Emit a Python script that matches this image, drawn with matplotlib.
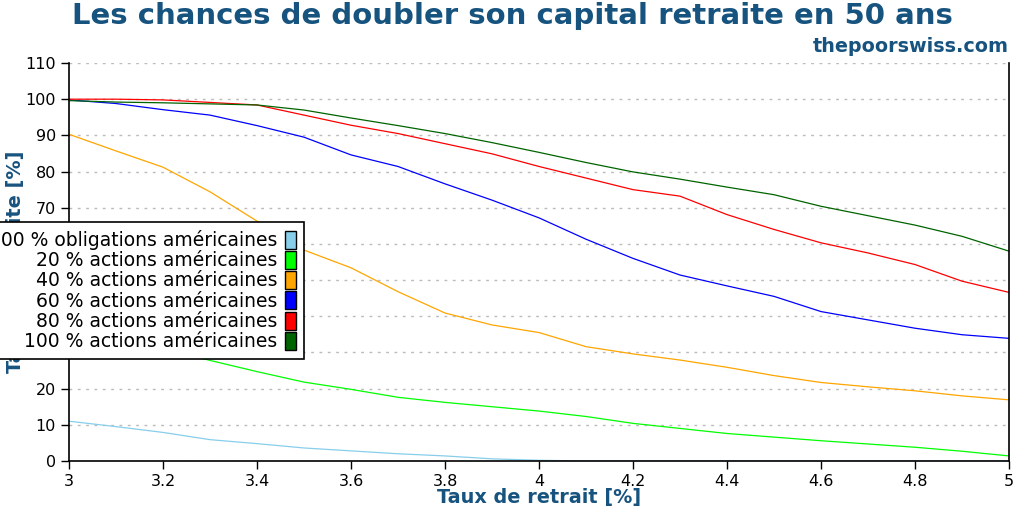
import matplotlib
matplotlib.use("Agg")
import matplotlib.pyplot as plt
import matplotlib.patches as mpatches

rates = [3.0, 3.1, 3.2, 3.3, 3.4, 3.5, 3.6, 3.7, 3.8, 3.9, 4.0,
         4.1, 4.2, 4.3, 4.4, 4.5, 4.6, 4.7, 4.8, 4.9, 5.0]

bonds100 = [11.0, 9.5, 7.9, 5.9, 4.8, 3.6, 2.8, 2.0, 1.4, 0.6, 0.2,
            0.0, 0.0, 0.0, 0.0, 0.0, 0.0, 0.0, 0.0, 0.0, 0.0]
stocks20 = [38.0, 34.5, 31.0, 27.8, 24.7, 21.8, 19.8, 17.6, 16.2, 15.0, 13.8,
            12.3, 10.4, 9.0, 7.6, 6.6, 5.6, 4.7, 3.8, 2.7, 1.4]
stocks40 = [90.3, 85.7, 81.2, 74.4, 66.3, 58.3, 53.4, 46.8, 40.9, 37.6, 35.5,
            31.6, 29.6, 27.9, 25.9, 23.6, 21.7, 20.5, 19.4, 18.0, 16.9]
stocks60 = [99.8, 98.8, 97.1, 95.6, 92.7, 89.5, 84.6, 81.4, 76.6, 72.1, 67.2,
            61.3, 56.0, 51.4, 48.4, 45.5, 41.3, 39.0, 36.7, 34.9, 33.9]
stocks80 = [100.0, 100.0, 99.8, 99.1, 98.4, 95.6, 92.8, 90.5, 87.7, 84.9, 81.4,
            78.2, 75.0, 73.2, 68.1, 64.0, 60.3, 57.5, 54.3, 49.7, 46.6]
stocks100 = [99.6, 99.2, 99.0, 98.7, 98.4, 97.0, 94.8, 92.7, 90.5, 88.0, 85.3,
             82.5, 79.9, 77.9, 75.7, 73.6, 70.4, 67.8, 65.2, 62.1, 58.0]

labels = ["100 % obligations américaines",
          "20 % actions américaines",
          "40 % actions américaines",
          "60 % actions américaines",
          "80 % actions américaines",
          "100 % actions américaines"]
colors = ["skyblue", "lime", "orange", "blue", "red", "darkgreen"]
series = [bonds100, stocks20, stocks40, stocks60, stocks80, stocks100]

xticks = [3, 3.2, 3.4, 3.6, 3.8, 4, 4.2, 4.4, 4.6, 4.8, 5]
xticklabels = ["3", "3.2", "3.4", "3.6", "3.8", "4", "4.2", "4.4", "4.6", "4.8", "5"]
yticks = list(range(0, 111, 10))

title = "Les chances de doubler son capital retraite en 50 ans"
subtitle = "thepoorswiss.com"
xlabel = "Taux de retrait [%]"
ylabel = "Taux de réussite [%]"

blue_txt = "#17537f"

plt.rcParams['font.family'] = ['DejaVu Sans']
fig = plt.figure(figsize=(10.24, 5.12), dpi=100)
ax = fig.add_axes([69/1024, 1-461/512, (1009-69)/1024, (461-63)/512])

for s, c in zip(series, colors):
    ax.plot(rates, s, color=c, lw=0.9)

ax.set_xlim(3, 5)
ax.set_ylim(0, 110)
ax.set_xticks(xticks)
ax.set_xticklabels(xticklabels)
ax.set_yticks(yticks)
ax.tick_params(labelsize=11.5, direction='out', length=6, width=1, colors='black')
ax.yaxis.grid(True, linestyle=(0, (2, 4)), color='#bbbbbb', lw=1)
ax.set_axisbelow(True)
ax.spines['top'].set_visible(False)
for sp in ['left', 'bottom', 'right']:
    ax.spines[sp].set_linewidth(1.2)
    ax.spines[sp].set_color('black')

ax.set_xlabel(xlabel, fontsize=13.9, fontweight='bold', color=blue_txt, labelpad=-1)
ax.set_ylabel(ylabel, fontsize=13.9, fontweight='bold', color=blue_txt, labelpad=0)

fig.text(0.5, 1-16.5/512, title, ha='center', va='center', fontsize=21,
         fontweight='bold', color=blue_txt)
fig.text(1009/1024, 1-46/512, subtitle, ha='right', va='center', fontsize=13.8,
         fontweight='bold', color=blue_txt)

handles = [mpatches.Patch(facecolor=c, edgecolor='black', lw=1) for c in colors]
leg = fig.legend(handles, labels, loc='upper right',
                 bbox_to_anchor=(304/1024, 1-222/512), fontsize=13.5,
                 markerfirst=False, fancybox=False, framealpha=1,
                 edgecolor='black', labelspacing=0.05, handlelength=0.6,
                 handleheight=1.1, handletextpad=0.4, borderpad=0.42,
                 borderaxespad=0)
leg.get_frame().set_linewidth(1.2)
for t in leg.get_texts():
    t.set_ha('right')

fig.savefig("out.png", dpi=100)
